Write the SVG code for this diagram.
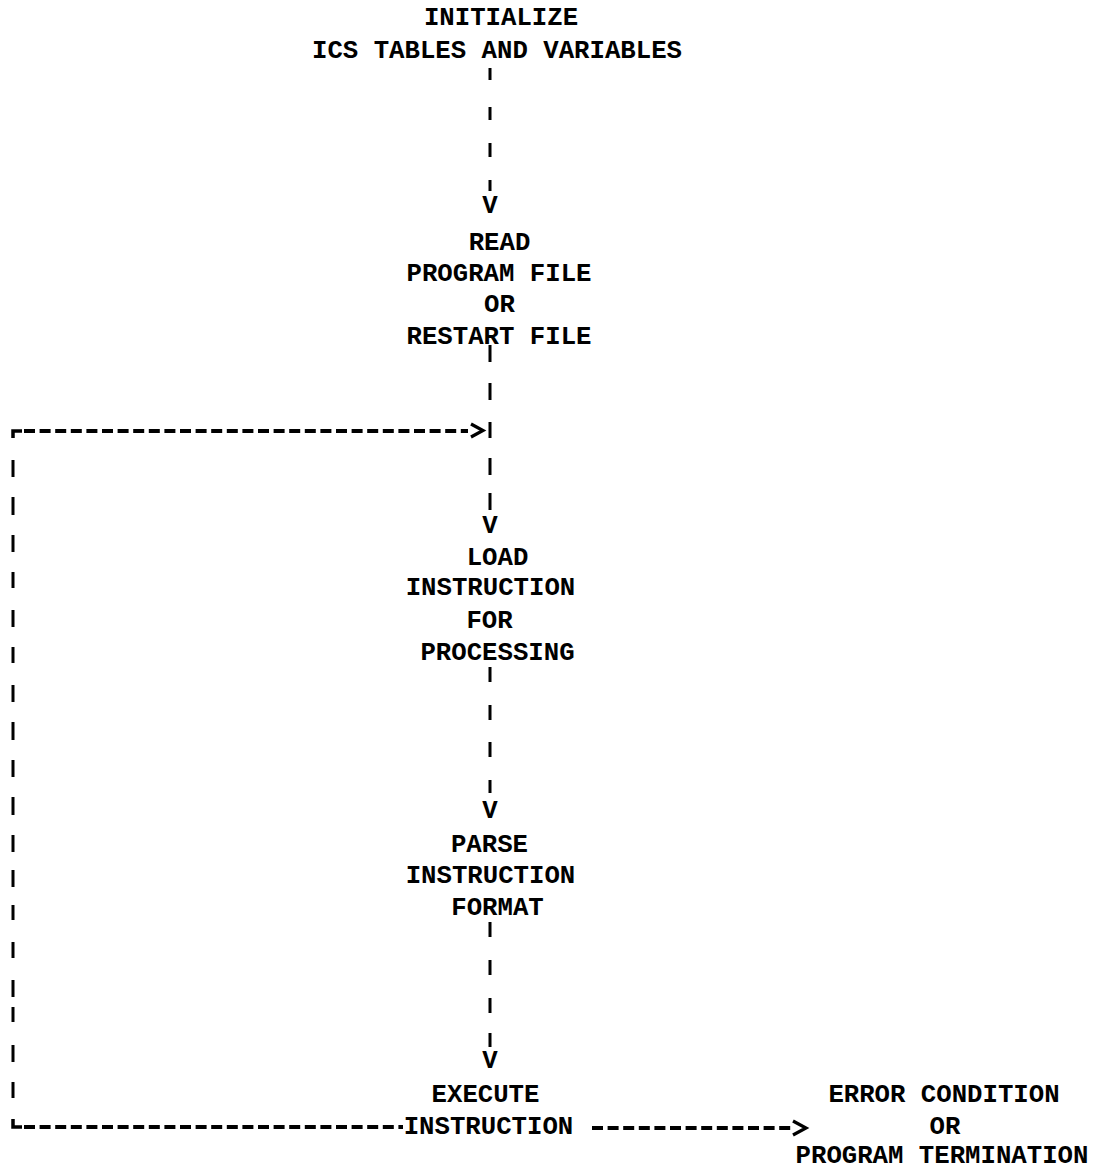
<svg xmlns="http://www.w3.org/2000/svg" width="1100" height="1169" viewBox="0 0 1100 1169">
<style>
  .t { font-family: "Liberation Mono", "Courier New", monospace; font-weight: bold; font-size: 25.7px; fill: #000; text-anchor: middle; }
  .v { stroke: #000; stroke-width: 3; fill: none; }
  .h { stroke: #000; stroke-width: 4; fill: none; stroke-dasharray: 11 4.6; }
  .c { stroke: #000; stroke-width: 3.5; fill: none; }
  .a { stroke: #000; stroke-width: 3.2; fill: none; stroke-linejoin: miter; }
</style>
<rect width="1100" height="1169" fill="#fff"/>

<g id="node-initialize">
  <text class="t" x="501" y="25">INITIALIZE</text>
  <text class="t" x="497" y="58">ICS TABLES AND VARIABLES</text>
</g>
<g id="node-read">
  <text class="t" x="499.5" y="250">READ</text>
  <text class="t" x="499" y="281">PROGRAM FILE</text>
  <text class="t" x="499.5" y="312">OR</text>
  <text class="t" x="499" y="344">RESTART FILE</text>
</g>
<g id="node-load">
  <text class="t" x="497.5" y="565">LOAD</text>
  <text class="t" x="490.5" y="595">INSTRUCTION</text>
  <text class="t" x="489.5" y="628">FOR</text>
  <text class="t" x="497.5" y="660">PROCESSING</text>
</g>
<g id="node-parse">
  <text class="t" x="489.5" y="852">PARSE</text>
  <text class="t" x="490.5" y="883">INSTRUCTION</text>
  <text class="t" x="497.5" y="915">FORMAT</text>
</g>
<g id="node-execute">
  <text class="t" x="485.5" y="1102">EXECUTE</text>
  <text class="t" x="488.5" y="1134">INSTRUCTION</text>
</g>
<g id="node-terminate">
  <text class="t" x="944" y="1102">ERROR CONDITION</text>
  <text class="t" x="945" y="1134">OR</text>
  <text class="t" x="942" y="1163">PROGRAM TERMINATION</text>
</g>

<g id="connectors">
  <!-- main vertical flow -->
  <path class="v" d="M490,68 V80 M490,107 V120 M490,143 V157 M490,180 V191
                     M490,345 V362 M490,383 V400 M490,422 V438 M490,458 V475 M490,493 V510
                     M490,667 V682 M490,705 V720 M490,742 V757 M490,780 V793
                     M490,922 V937 M490,960 V975 M490,998 V1013 M490,1033 V1047"/>
  <text class="t" x="490" y="213">V</text>
  <text class="t" x="490" y="533">V</text>
  <text class="t" x="490" y="818">V</text>
  <text class="t" x="490" y="1068">V</text>

  <!-- loop back: left vertical -->
  <path class="v" d="M13,460 V477 M13,497 V515 M13,535 V552 M13,572 V588 M13,610 V627 M13,647 V663 M13,685 V702
                     M13,722 V740 M13,760 V777 M13,797 V815 M13,835 V852 M13,870 V887
                     M13,905 V920 M13,942 V958 M13,980 V997 M13,1007 V1022 M13,1045 V1062 M13,1082 V1098"/>
  <!-- top corner and return line -->
  <path class="c" d="M13,438 V431 H22"/>
  <path class="h" d="M24,431 H468"/>
  <path class="a" d="M471,424 L483,430.5 L471,437"/>
  <!-- bottom corner and line into EXECUTE -->
  <path class="c" d="M13,1119 V1127 H22"/>
  <path class="h" d="M24,1127 H403"/>
  <!-- exit to error / termination -->
  <path class="h" d="M592,1128 H792"/>
  <path class="a" d="M793,1121 L806,1128 L793,1135"/>
</g>
</svg>
